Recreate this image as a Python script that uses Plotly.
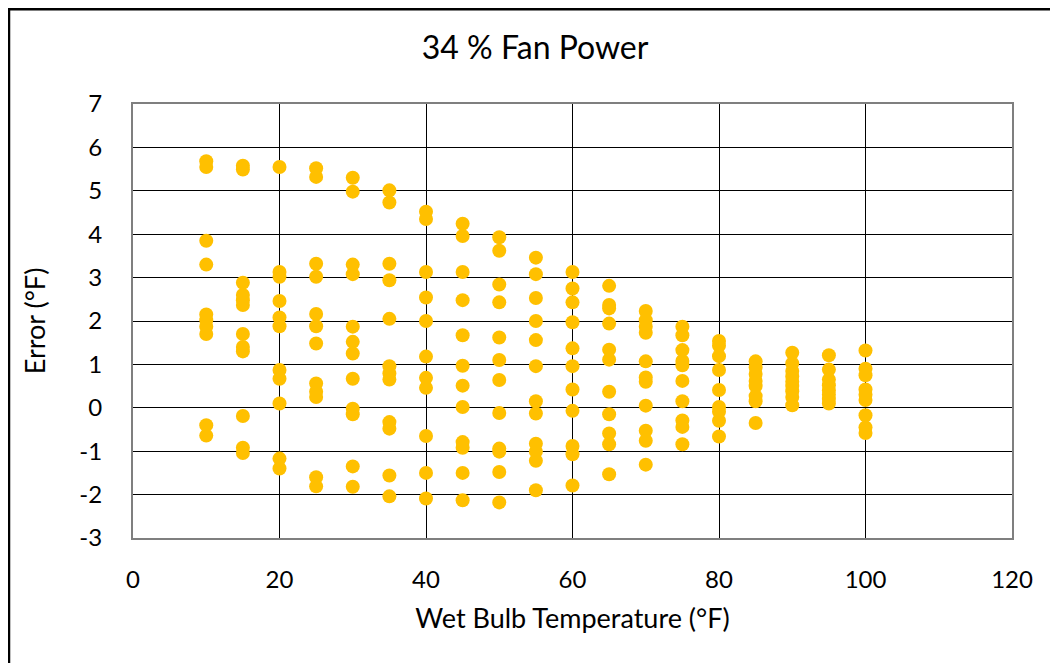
import plotly.graph_objects as go

# Wet bulb temperature columns (°F) and the error values (°F) at each
wb_columns = [10, 15, 20, 25, 30, 35, 40, 45, 50, 55, 60, 65, 70, 75, 80, 85, 90, 95, 100]

err_10 = [5.68, 5.55, 3.85, 3.30, 2.15, 2.02, 1.87, 1.70, -0.40, -0.64]
err_15 = [5.58, 5.49, 2.88, 2.60, 2.48, 2.37, 1.70, 1.40, 1.30, -0.19, -0.92, -1.04]
err_20 = [5.55, 3.13, 3.02, 2.46, 2.08, 1.88, 0.87, 0.67, 0.10, -1.17, -1.40]
err_25 = [5.52, 5.32, 3.32, 3.02, 2.16, 1.88, 1.48, 0.56, 0.37, 0.25, -1.60, -1.81]
err_30 = [5.30, 4.98, 3.30, 3.08, 1.87, 1.52, 1.25, 0.67, -0.02, -0.15, -1.35, -1.82]
err_35 = [5.01, 4.73, 3.32, 2.94, 2.05, 0.96, 0.79, 0.65, -0.33, -0.48, -1.56, -2.04]
err_40 = [4.52, 4.35, 3.13, 2.54, 2.00, 1.18, 0.69, 0.46, -0.65, -1.50, -2.09]
err_45 = [4.24, 3.96, 3.13, 2.48, 1.67, 0.97, 0.51, 0.02, -0.79, -0.92, -1.50, -2.13]
err_50 = [3.93, 3.62, 2.84, 2.43, 1.62, 1.10, 0.64, -0.12, -0.94, -1.01, -1.48, -2.18]
err_55 = [3.46, 3.08, 2.53, 2.00, 1.56, 0.96, 0.15, -0.13, -0.83, -1.01, -1.22, -1.90]
err_60 = [3.13, 2.75, 2.43, 1.97, 1.37, 0.96, 0.42, -0.07, -0.88, -1.07, -1.79]
err_65 = [2.81, 2.37, 2.29, 1.94, 1.34, 1.11, 0.37, -0.15, -0.59, -0.84, -1.53]
err_70 = [2.23, 2.02, 1.87, 1.73, 1.07, 0.70, 0.60, 0.05, -0.53, -0.76, -1.31]
err_75 = [1.87, 1.67, 1.33, 1.08, 0.98, 0.62, 0.15, -0.29, -0.44, -0.84]
err_80 = [1.54, 1.43, 1.19, 0.87, 0.41, 0.02, -0.09, -0.30, -0.66]
err_85 = [1.07, 0.93, 0.78, 0.62, 0.50, 0.27, 0.15, -0.35]
err_90 = [1.27, 1.02, 0.85, 0.72, 0.60, 0.50, 0.38, 0.25, 0.06]
err_95 = [1.21, 0.88, 0.65, 0.52, 0.40, 0.30, 0.20, 0.10]
err_100 = [1.32, 0.90, 0.75, 0.42, 0.30, 0.18, -0.17, -0.45, -0.58]

err_by_column = [err_10, err_15, err_20, err_25, err_30, err_35, err_40, err_45, err_50,
                 err_55, err_60, err_65, err_70, err_75, err_80, err_85, err_90, err_95, err_100]

x_ticks = [0, 20, 40, 60, 80, 100, 120]
y_ticks = [-3, -2, -1, 0, 1, 2, 3, 4, 5, 6, 7]

xs, ys = [], []
for t, errs in zip(wb_columns, err_by_column):
    xs.extend([t] * len(errs))
    ys.extend(errs)

FONT = "Lato, 'Open Sans', sans-serif"

fig = go.Figure()
fig.add_trace(go.Scatter(
    x=xs, y=ys, mode="markers",
    marker=dict(color="#FFC000", size=14, line=dict(width=0)),
    showlegend=False,
))

# page body has an 8px margin, so the figure itself starts at (8, 8)
W, H = 1050, 655
L, T = 125, 96
PW, PH = 879, 434
R, B = W - L - PW, H - T - PH

def px_to_paper_x(px):
    return (px - L) / PW

def px_to_paper_y(py):
    return (H - B - py) / PH

fig.update_layout(
    width=W, height=H,
    margin=dict(l=L, r=R, t=T, b=B),
    paper_bgcolor="white", plot_bgcolor="white",
    font=dict(family=FONT, color="#000000"),
    title=dict(text="34 % Fan Power", x=0.502, xref="container", xanchor="center",
               y=1 - 40 / H, yref="container", yanchor="middle",
               font=dict(size=32, family=FONT, color="#000")),
    xaxis=dict(range=[0, 120], tickvals=x_ticks, ticktext=[str(v) for v in x_ticks],
               showgrid=True, gridcolor="#000000", gridwidth=1,
               zeroline=False, showline=True, linecolor="#7f7f7f", linewidth=2, mirror=True,
               ticks="", tickfont=dict(size=24, family=FONT), ticklabelstandoff=19,
               title=dict(text="Wet Bulb Temperature (°F)", font=dict(size=27, family=FONT), standoff=17)),
    yaxis=dict(range=[-3, 7], tickvals=y_ticks, ticktext=[str(v) for v in y_ticks],
               showgrid=True, gridcolor="#000000", gridwidth=1,
               zeroline=False, showline=True, linecolor="#7f7f7f", linewidth=2, mirror=True,
               ticks="", tickfont=dict(size=24, family=FONT), ticklabelstandoff=24,
               title=dict(text="Error (°F)", font=dict(size=27, family=FONT), standoff=26)),
    shapes=[
        dict(type="line", xref="paper", yref="paper",
             x0=px_to_paper_x(-1), x1=px_to_paper_x(W + 2),
             y0=px_to_paper_y(1), y1=px_to_paper_y(1),
             line=dict(color="#000", width=3)),
        dict(type="line", xref="paper", yref="paper",
             x0=px_to_paper_x(1), x1=px_to_paper_x(1),
             y0=px_to_paper_y(-1), y1=px_to_paper_y(H + 2),
             line=dict(color="#000", width=2.5)),
    ],
)

fig.write_html("out.html")
